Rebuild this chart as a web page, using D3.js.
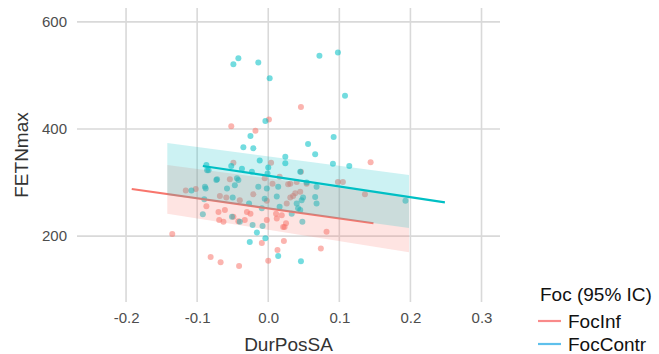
<!DOCTYPE html>
<html>
<head>
<meta charset="utf-8">
<script src="https://cdn.jsdelivr.net/npm/d3@7"></script>
<style>
  body { margin: 0; background: #fff; }
  text { font-family: "Liberation Sans", Arial, Helvetica, sans-serif; }
</style>
</head>
<body>
<svg id="chart" width="659" height="354"></svg>
<script>
// ---------------- data ----------------
const groups = ["FocInf", "FocContr"];
const xTicks = [-0.2, -0.1, 0.0, 0.1, 0.2, 0.3];
const yTicks = [200, 400, 600];

const focInfX = [-0.135,-0.081,-0.067,-0.041,0.000,0.013,0.022,-0.009,0.074,0.082,0.025,0.021,0.136,0.098,0.105,0.144,0.046,0.004,-0.049,-0.052,-0.018,0.001,0.046,-0.054,-0.021,0.006,0.016,0.031,0.054,0.038,0.045,0.035,-0.040,0.026,-0.030,-0.061,-0.049,-0.033,-0.087,-0.070,-0.063,-0.002,0.011,0.019,0.012,-0.102,-0.116,-0.068,-0.059,-0.005,0.028,0.040,0.031,-0.002,-0.042,-0.025,0.023,-0.069];
const focInfY = [204,161,151,144,154,174,191,187,177,208,224,217,278,301,301,338,320,337,337,405,397,418,441,306,278,298,311,298,298,280,283,275,267,261,245,249,236,230,256,245,227,230,242,239,233,288,285,275,272,308,297,301,272,266,228,242,217,230];

const focContrX = [-0.049,-0.042,-0.014,0.002,0.072,0.098,0.108,-0.025,-0.004,-0.035,-0.021,0.056,0.066,0.092,0.091,0.114,-0.012,0.024,0.024,0.000,-0.052,-0.037,-0.023,-0.086,-0.087,0.193,0.046,0.014,-0.004,-0.026,-0.016,-0.022,0.048,-0.073,-0.089,-0.044,-0.047,-0.058,-0.014,-0.002,0.014,0.045,0.068,0.066,0.047,0.040,0.012,-0.005,-0.027,-0.009,0.016,0.033,0.045,-0.040,-0.051,-0.072,-0.042,-0.088,-0.108,-0.050,-0.090,-0.001,0.054,0.049,-0.092,-0.008,0.068,0.042,-0.084];
const focContrY = [521,532,524,495,537,543,462,387,415,366,364,372,353,385,335,331,341,348,336,328,331,326,320,323,333,266,153,163,196,189,207,221,227,305,292,308,295,289,292,289,292,320,292,273,267,261,274,270,261,252,255,242,249,227,236,306,305,289,285,272,269,317,300,272,241,219,261,252,323];

// fitted lines (endpoints)
const focInfLineX = [-0.192, 0.148];
const focInfLineY = [288, 224];
const focContrLineX = [-0.092, 0.2485];
const focContrLineY = [331, 263];

// ribbons (95% IC)
const ribbonX = [-0.142, 0.198];
const focInfLower = [242, 170];
const focInfUpper = [333, 273];
const focContrLower = [277, 215];
const focContrUpper = [374, 314];

// ---------------- drawing ----------------
const colors = { FocInf: "#F8766D", FocContr: "#00BFC4" };
const keyColors = { FocInf: "#F98A8A", FocContr: "#5EC0EC" };

const svg = d3.select("#chart");
const panel = { left: 77, right: 500, top: 8, bottom: 302 };

const x = d3.scaleLinear().domain([-0.269, 0.326]).range([panel.left, panel.right]);
const y = d3.scaleLinear().domain([77, 626]).range([panel.bottom, panel.top]);

// grid
const grid = svg.append("g");
grid.selectAll("line.v").data(xTicks).join("line")
  .attr("x1", d => x(d)).attr("x2", d => x(d))
  .attr("y1", panel.top).attr("y2", panel.bottom)
  .attr("stroke", "#d9d9d9").attr("stroke-width", 1.6);
grid.selectAll("line.h").data(yTicks).join("line")
  .attr("x1", panel.left).attr("x2", panel.right)
  .attr("y1", d => y(d)).attr("y2", d => y(d))
  .attr("stroke", "#d9d9d9").attr("stroke-width", 1.6);

// axes (text only)
const xAxis = d3.axisBottom(x).tickValues(xTicks).tickFormat(d3.format(".1f")).tickSize(0).tickPadding(0);
const gx = svg.append("g").attr("transform", `translate(0,${panel.bottom + 10})`).call(xAxis);
gx.select(".domain").remove();
gx.selectAll("text").attr("fill", "#4d4d4d").style("font-size", "15px")
  .attr("dy", "0.71em")
  .text(d => d3.format(".1f")(d).replace("−", "-"));

const yAxis = d3.axisLeft(y).tickValues(yTicks).tickSize(0).tickPadding(0);
const gy = svg.append("g").attr("transform", `translate(${panel.left - 10},0)`).call(yAxis);
gy.select(".domain").remove();
gy.selectAll("text").attr("fill", "#4d4d4d").style("font-size", "15px");

// points
const ptsData = [
  ...focInfX.map((v, i) => ({ g: "FocInf", x: v, y: focInfY[i] })),
  ...focContrX.map((v, i) => ({ g: "FocContr", x: v, y: focContrY[i] }))
];
svg.append("g").selectAll("circle").data(ptsData).join("circle")
  .attr("cx", d => x(d.x)).attr("cy", d => y(d.y)).attr("r", 3)
  .attr("fill", d => colors[d.g]).attr("fill-opacity", 0.55);

// ribbons + lines
const series = [
  { g: "FocInf", lo: focInfLower, hi: focInfUpper, lx: focInfLineX, ly: focInfLineY },
  { g: "FocContr", lo: focContrLower, hi: focContrUpper, lx: focContrLineX, ly: focContrLineY }
];
const area = d3.area().x(d => x(d.x)).y0(d => y(d.lo)).y1(d => y(d.hi));
const line = d3.line().x(d => x(d.x)).y(d => y(d.y));
series.forEach(s => {
  svg.append("path")
    .datum(ribbonX.map((v, i) => ({ x: v, lo: s.lo[i], hi: s.hi[i] })))
    .attr("d", area).attr("fill", colors[s.g]).attr("fill-opacity", 0.2);
  svg.append("path")
    .datum(s.lx.map((v, i) => ({ x: v, y: s.ly[i] })))
    .attr("d", line).attr("fill", "none").attr("stroke", colors[s.g]).attr("stroke-width", 2.2);
});

// axis titles
svg.append("text").attr("x", (panel.left + panel.right) / 2).attr("y", 351)
  .attr("text-anchor", "middle").attr("fill", "#333").style("font-size", "19px").text("DurPosSA");
svg.append("text").attr("transform", `translate(28,${(panel.top + panel.bottom) / 2}) rotate(-90)`)
  .attr("text-anchor", "middle").attr("fill", "#333").style("font-size", "19px").text("FETNmax");

// legend
const leg = svg.append("g");
leg.append("text").attr("x", 540).attr("y", 301).attr("fill", "#111").style("font-size", "19px").text("Foc (95% IC)");
groups.forEach((g, i) => {
  const cy = 321 + i * 23;
  leg.append("line").attr("x1", 538).attr("x2", 561).attr("y1", cy).attr("y2", cy)
    .attr("stroke", keyColors[g]).attr("stroke-width", 2.2);
  leg.append("text").attr("x", 568).attr("y", cy + 6.5).attr("fill", "#111").style("font-size", "19px").text(g);
});
</script>
</body>
</html>
